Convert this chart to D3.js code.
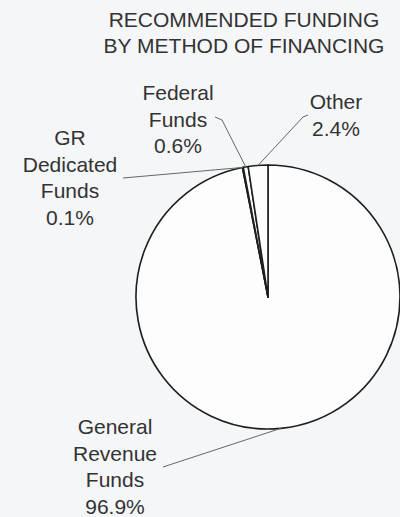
<!DOCTYPE html>
<html>
<head>
<meta charset="utf-8">
<script src="https://cdn.jsdelivr.net/npm/d3@7"></script>
<style>
  body { margin: 0; background: #f5f6f8; }
  text { font-family: "Liberation Sans", Arial, sans-serif; fill: #333; font-size: 21px; }
</style>
</head>
<body>
<svg id="chart"></svg>
<script>
// data
var categories = ["General Revenue Funds", "GR Dedicated Funds", "Federal Funds", "Other"];
var shares = [96.9, 0.1, 0.6, 2.4];
var labelWords = [["General", "Revenue", "Funds"], ["GR", "Dedicated", "Funds"], ["Federal", "Funds"], ["Other"]];
var titleLines = ["RECOMMENDED FUNDING", "BY METHOD OF FINANCING"];

var svgWidth = 400;
var svgHeight = 517;
var cx = 268, cy = 297, radius = 132;

// label placement (absolute px), leader points go from the arc outwards
var labelLayout = [
  { x: 115, y: 434, lead: [[163, 467]] },
  { x: 70, y: 145, lead: [[123, 178]] },
  { x: 178, y: 100, lead: [[222, 120], [215, 117]] },
  { x: 336, y: 109, lead: [[303, 117], [308, 115]] }
];
var lineGap = 26.5;

var svg = d3.select("#chart")
  .attr("width", svgWidth)
  .attr("height", svgHeight);

svg.append("g")
  .selectAll("text")
  .data(titleLines)
  .enter()
  .append("text")
  .attr("x", 244)
  .attr("y", (d, i) => 27 + i * 26)
  .attr("text-anchor", "middle")
  .text(d => d);

var pie = d3.pie().sort(null).value(d => d);
var arcs = pie(shares);
var arc = d3.arc().innerRadius(0).outerRadius(radius);
var edgeArc = d3.arc().innerRadius(radius).outerRadius(radius);

var pieGroup = svg.append("g")
  .attr("transform", `translate(${cx}, ${cy})`);

pieGroup.selectAll("path")
  .data(arcs)
  .enter()
  .append("path")
  .attr("d", arc)
  .attr("fill", "#fdfdfd")
  .attr("stroke", "#1e1e1e")
  .attr("stroke-width", 1.6)
  .attr("stroke-linejoin", "round");

// leader lines
var line = d3.line();
svg.append("g")
  .selectAll("path")
  .data(arcs)
  .enter()
  .append("path")
  .attr("d", (d, i) => {
    var p = edgeArc.centroid(d);
    var pts = [[p[0] + cx, p[1] + cy]].concat(labelLayout[i].lead);
    return line(pts);
  })
  .attr("fill", "none")
  .attr("stroke", "#666")
  .attr("stroke-width", 1);

// labels
var labels = svg.append("g");
categories.forEach(function(c, i) {
  var lines = labelWords[i].concat([shares[i].toFixed(1) + "%"]);
  labels.append("text")
    .attr("text-anchor", "middle")
    .selectAll("tspan")
    .data(lines)
    .enter()
    .append("tspan")
    .attr("x", labelLayout[i].x)
    .attr("y", (d, j) => labelLayout[i].y + j * lineGap)
    .text(d => d);
});
</script>
</body>
</html>
